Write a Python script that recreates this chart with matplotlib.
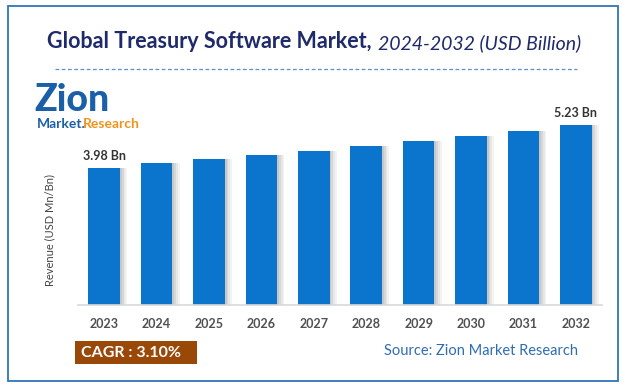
import numpy as np
import matplotlib.pyplot as plt
from matplotlib.patches import Rectangle

plt.rcParams['font.family'] = ['Lato', 'DejaVu Sans']

years = ['2023', '2024', '2025', '2026', '2027', '2028', '2029', '2030', '2031', '2032']
revenue = [3.98, 4.12, 4.24, 4.36, 4.49, 4.63, 4.77, 4.91, 5.07, 5.23]
labels = {0: '3.98 Bn', 9: '5.23 Bn'}
cagr = 'CAGR : 3.10%'
source = 'Source: Zion Market Research'

W, H = 626, 389
fig = plt.figure(figsize=(W / 100, H / 100), dpi=100)
fig.patch.set_facecolor('white')

def px(x, y):
    # pixel coords (top-left origin) -> figure fraction
    return x / W, 1 - y / H

# outer border
fig.patches.append(Rectangle((8 / W, 1 - 381 / H), 610 / W, 375 / H, transform=fig.transFigure,
                             fill=False, edgecolor='#2E75B6', lw=1.3))

# title in two styles
navy = '#1F2A6B'
t1 = fig.text(*px(47, 42), 'Global Treasury Software Market,', fontsize=15.5, fontweight='bold',
              color=navy, va='center', ha='left')
fig.canvas.draw()
bb = t1.get_window_extent()
fig.text(bb.x1 / W + 6 / W, px(0, 43)[1], '2024-2032 (USD Billion)', fontsize=14, fontstyle='italic',
         color=navy, va='center', ha='left')

# dashed line under title
fig.lines.append(plt.Line2D([55 / W, 577 / W], [1 - 69 / H] * 2, transform=fig.transFigure,
                            color='#5B8FD1', lw=0.9, ls=(0, (3, 2))))

# logo
fig.text(*px(34, 100), 'Zion', fontsize=27, fontweight='black', color='#1B5FA8', va='center', ha='left')
fig.text(*px(37, 124), 'Market.', fontsize=10, fontweight='bold', color='#1B5FA8', va='center', ha='left')
fig.text(*px(83, 124), 'Research', fontsize=10, fontweight='bold', color='#F0931E', va='center', ha='left')

ax = fig.add_axes([78 / W, 1 - 305 / H, 524 / W, 200 / H])
x = np.arange(len(years))
bw = 0.6
# soft shadow on the right of each bar
for k, a in enumerate([0.35, 0.25, 0.15, 0.07]):
    ax.bar(x + bw / 2 + 0.035 * k + 0.0175, revenue, width=0.035, color='#606060', alpha=a, zorder=1)
ax.bar(x, revenue, width=bw, color='#0B75CD', zorder=2)

for i, s in labels.items():
    ax.text(x[i], revenue[i] + 0.18, s, ha='center', va='bottom', fontsize=9, fontweight='bold', color='#333333')

ax.set_xlim(-0.5, len(years) - 0.5)
ax.set_ylim(0, 200 / 34.4)
ax.set_xticks(x)
ax.set_xticklabels(years, fontsize=9, fontweight='bold', color='#505050')
ax.tick_params(axis='x', length=0, pad=9)
ax.set_yticks([])
for sp in ['top', 'right', 'left']:
    ax.spines[sp].set_visible(False)
ax.spines['bottom'].set_color('#D9D9D9')
ax.spines['bottom'].set_linewidth(1.2)

fig.text(*px(50, 230), 'Revenue (USD Mn/Bn)', rotation=90, fontsize=8, color='#444444', va='center', ha='center')

# CAGR box
fig.patches.append(Rectangle((75 / W, 1 - 364 / H), 122 / W, 23 / H, transform=fig.transFigure,
                             facecolor='#9A4808', edgecolor='none'))
fig.text(*px(81, 353), cagr, fontsize=11.5, fontweight='bold', color='white', va='center', ha='left')

fig.text(*px(578, 351), source, fontsize=10.5, color='#2E6DB4', va='center', ha='right')

fig.savefig('out.png', dpi=100)
